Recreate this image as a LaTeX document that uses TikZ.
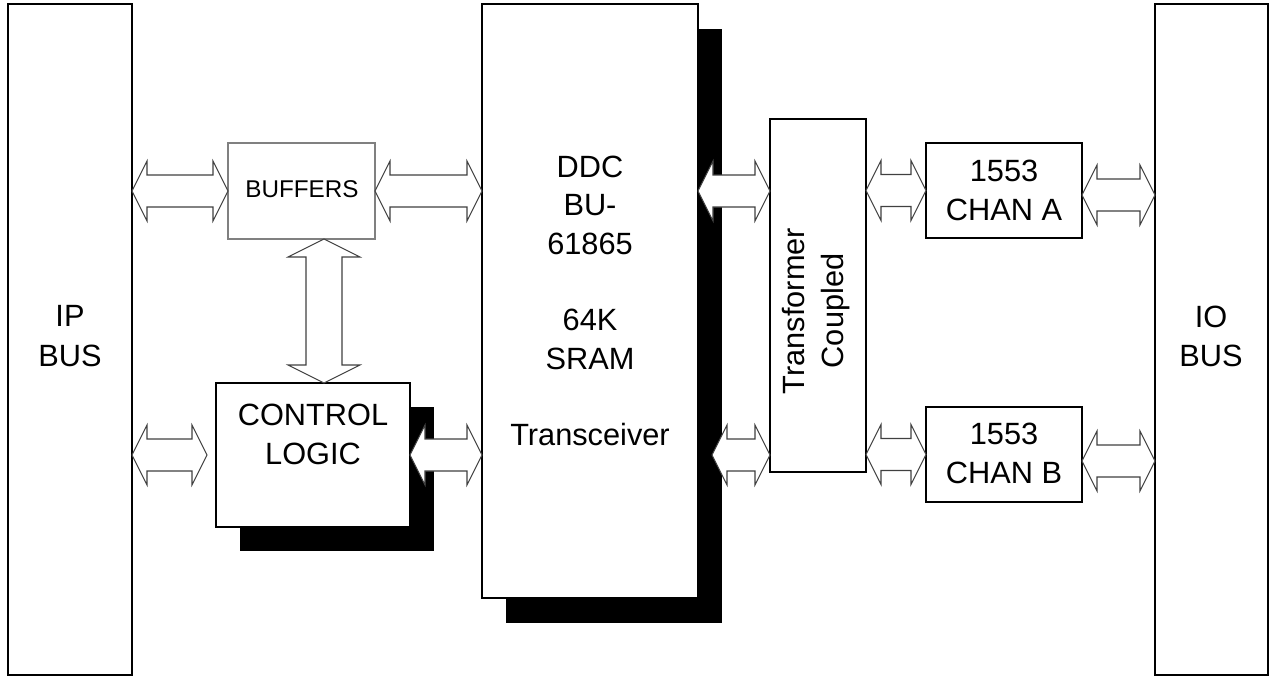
\documentclass[tikz,border=0pt]{standalone}
\usepackage{fontspec}
\setmainfont{Liberation Sans}
\usetikzlibrary{calc}
\tikzset{
  blk/.style={draw=black, line width=0.9pt, fill=white, inner sep=0pt, outer sep=0pt},
  thinblk/.style={draw=black!50, line width=0.6pt, fill=white, inner sep=0pt, outer sep=0pt},
  shadowbox/.style={fill=black, draw=none, inner sep=0pt, outer sep=0pt},
  barrow/.style={draw=black!75, line width=0.6pt, fill=white, line join=miter},
  bigtxt/.style={font=\fontsize{17.5}{22.3}\selectfont, align=center, inner sep=0pt},
  smalltxt/.style={font=\fontsize{13.8}{16}\selectfont, align=center, inner sep=0pt}
}
% box node from pixel corners: style, x1, y1, x2, y2, name
\newcommand{\pxbox}[6]{\node[#1, minimum width={(#4-#2)*0.02cm}, minimum height={(#5-#3)*0.02cm}] (#6) at ({(#2+#4)/2},{(#3+#5)/2}) {};}
% horizontal double block arrow
\newcommand{\harr}[2]{\draw[barrow] let \p1=(#1), \p2=(#2) in
  (\x1,\y1) -- (\x1+0.3cm,\y1+0.6cm) -- (\x1+0.3cm,\y1+0.32cm) -- (\x2-0.3cm,\y1+0.32cm) -- (\x2-0.3cm,\y1+0.6cm) -- (\x2,\y1)
  -- (\x2-0.3cm,\y1-0.6cm) -- (\x2-0.3cm,\y1-0.32cm) -- (\x1+0.3cm,\y1-0.32cm) -- (\x1+0.3cm,\y1-0.6cm) -- cycle;}
% vertical double block arrow (top to bottom)
\newcommand{\varr}[2]{\draw[barrow] let \p1=(#1), \p2=(#2) in
  (\x1,\y1) -- (\x1+0.72cm,\y1-0.36cm) -- (\x1+0.36cm,\y1-0.36cm) -- (\x1+0.36cm,\y2+0.36cm) -- (\x1+0.72cm,\y2+0.36cm) -- (\x1,\y2)
  -- (\x1-0.72cm,\y2+0.36cm) -- (\x1-0.36cm,\y2+0.36cm) -- (\x1-0.36cm,\y1-0.36cm) -- (\x1-0.72cm,\y1-0.36cm) -- cycle;}
\begin{document}
\begin{tikzpicture}[x=0.02cm, y=-0.02cm]
\useasboundingbox (0,0) rectangle (1273,677);
% shadows
\pxbox{shadowbox}{506}{29}{722}{623}{ddcsh}
\pxbox{shadowbox}{240}{407}{434}{551}{ctlsh}
% boxes
\pxbox{blk}{8}{4}{132}{675}{ip}
\pxbox{blk}{1155}{4}{1268}{675}{io}
\pxbox{thinblk}{228}{143}{375}{239}{buf}
\pxbox{blk}{216}{383}{410}{527}{ctl}
\pxbox{blk}{482}{4}{698}{598}{ddc}
\pxbox{blk}{770}{119}{866}{472}{tc}
\pxbox{blk}{926}{143}{1082}{238}{cha}
\pxbox{blk}{926}{407}{1082}{502}{chb}
% texts
\node[bigtxt] (iptxt) at (70,336) {IP\\BUS};
\node[bigtxt] (iotxt) at (1211,336) {IO\\BUS};
\node[smalltxt] (buftxt) at (302,189) {BUFFERS};
\node[bigtxt] (ctltxt) at (313,434) {CONTROL\\LOGIC};
\node[bigtxt, font=\fontsize{17.5}{21.8}\selectfont] (ddctxt) at (590,301) {DDC\\BU-\\61865\\[21.8pt]64K\\SRAM\\[21.8pt]Transceiver};
\node[bigtxt, rotate=90, font=\fontsize{17.5}{21.8}\selectfont] (tctxt) at (816,311) {Transformer\\Coupled};
\node[bigtxt] (chatxt) at (1004,190) {1553\\CHAN A};
\node[bigtxt] (chbtxt) at (1004,453) {1553\\CHAN B};
% connector end points
\coordinate (vtop) at ($(buf.south)+(22.5,0)$);
\coordinate (vbot) at (vtop |- ctl.north);
\coordinate (ctlin) at ($(ctl.west)+(-9,0)$);
\coordinate (ddcin) at ($(ctl.east -| ddc.east)+(14,0)$);
\coordinate (chaout) at ($(cha.east)+(0,4.5)$);
\coordinate (chbout) at ($(chb.east)+(0,6.5)$);
% arrows
\harr{ip.east |- buf.west}{buf.west}
\harr{buf.east}{buf.east -| ddc.west}
\varr{vtop}{vbot}
\harr{ip.east |- ctl.west}{ctlin}
\harr{ctl.east}{ctl.east -| ddc.west}
\harr{buf.east -| ddc.east}{buf.east -| tc.west}
\harr{ddcin}{ctl.east -| tc.west}
\harr{cha.west -| tc.east}{cha.west}
\harr{chb.west -| tc.east}{chb.west}
\harr{chaout}{chaout -| io.west}
\harr{chbout}{chbout -| io.west}
\end{tikzpicture}
\end{document}
